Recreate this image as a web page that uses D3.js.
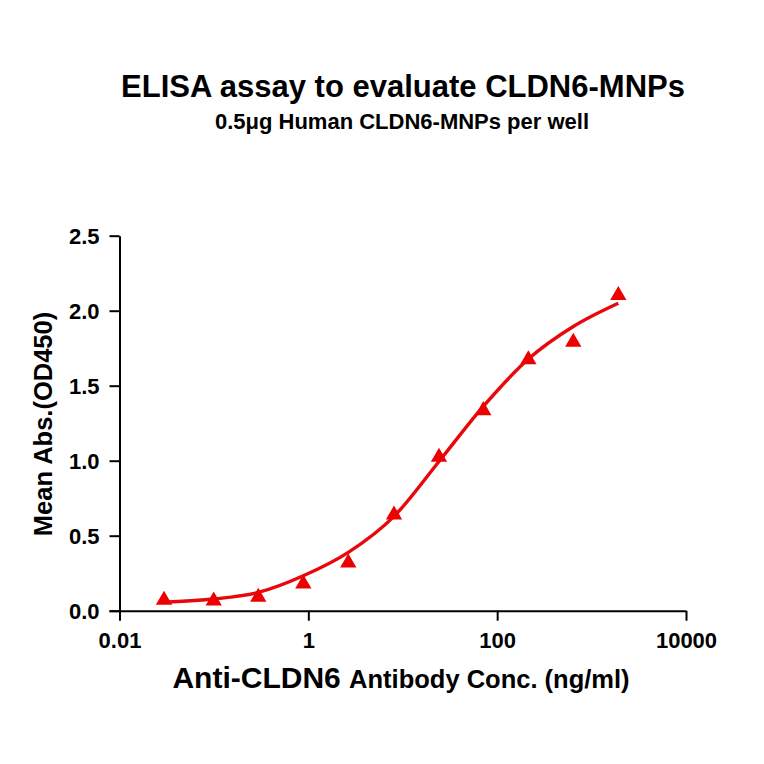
<!DOCTYPE html>
<head>
    <meta charset="utf-8">
    <script src="https://cdn.jsdelivr.net/npm/d3@7"></script>
    <title>ELISA assay to evaluate CLDN6-MNPs</title>
    <style>
        body { margin: 0; background: #fff; }
        text { font-family: "Liberation Sans", Arial, sans-serif; font-weight: bold; fill: #000; }
    </style>
</head>
<body>
    <div id="chart"></div>
    <script>
        // measured points (ng/ml, OD450)
        const conc = [0.0296, 0.0995, 0.295, 0.885, 2.65, 8.08, 24.2, 71.3, 214, 640, 1919];
        const od = [0.071, 0.066, 0.091, 0.179, 0.319, 0.639, 1.024, 1.335, 1.674, 1.791, 2.102];

        // fitted curve
        const fitConc = [0.033, 0.0995, 0.295, 0.885, 2.65, 8.08, 24.2, 71.3, 214, 640, 1919];
        const fitOd = [0.058, 0.078, 0.122, 0.233, 0.389, 0.629, 0.995, 1.362, 1.678, 1.895, 2.05];

        const xTicks = [0.01, 1, 100, 10000];
        const yTicks = [0, 0.5, 1.0, 1.5, 2.0, 2.5];

        const width = 764, height = 764;
        const mLeft = 119.5, mRight = 686, mTop = 235.7, mBottom = 610.7;

        const svg = d3.select("#chart").append("svg")
            .attr("width", width)
            .attr("height", height);

        const x = d3.scaleLog().domain([0.01, 10000]).range([mLeft, mRight]);
        const y = d3.scaleLinear().domain([0, 2.5]).range([mBottom, mTop]);

        // axes
        const xAxis = svg.append("g")
            .attr("transform", `translate(0,${mBottom})`)
            .call(d3.axisBottom(x).tickValues(xTicks).tickFormat(d => d3.format("~g")(d)).tickSize(10).tickPadding(10).tickSizeOuter(0));
        xAxis.select(".domain").attr("d", `M${mLeft - 10},0.5H${mRight}`);

        const yAxis = svg.append("g")
            .attr("transform", `translate(${mLeft},0)`)
            .call(d3.axisLeft(y).tickValues(yTicks).tickFormat(d3.format(".1f")).tickSize(10).tickPadding(10).tickSizeOuter(0));

        svg.selectAll(".tick line, .domain").attr("stroke", "#000").attr("stroke-width", 2);
        svg.selectAll(".tick text").style("font-size", "22px").attr("fill", "#000");
        yAxis.selectAll(".tick text").attr("dy", "0.36em");
        xAxis.selectAll(".tick text").attr("dy", "0.8em");

        // fitted line
        const line = d3.line()
            .x((d, i) => x(fitConc[i]))
            .y(d => y(d))
            .curve(d3.curveMonotoneX);

        svg.append("path")
            .datum(fitOd)
            .attr("d", line)
            .attr("fill", "none")
            .attr("stroke", "#e8070b")
            .attr("stroke-width", 3.4);

        // triangles
        svg.selectAll(".pt")
            .data(od)
            .enter()
            .append("path")
            .attr("class", "pt")
            .attr("transform", (d, i) => `translate(${x(conc[i])},${y(d)})`)
            .attr("d", d3.symbol().type(d3.symbolTriangle).size(115))
            .attr("fill", "#ee0000");

        // titles
        svg.append("text")
            .attr("x", 403).attr("y", 97)
            .attr("text-anchor", "middle")
            .style("font-size", "31px")
            .text("ELISA assay to evaluate CLDN6-MNPs");

        svg.append("text")
            .attr("x", 402).attr("y", 129)
            .attr("text-anchor", "middle")
            .style("font-size", "22px")
            .text("0.5μg Human CLDN6-MNPs per well");

        const xt = svg.append("text")
            .attr("x", 401).attr("y", 688)
            .attr("text-anchor", "middle");
        xt.append("tspan").style("font-size", "30px").text("Anti-CLDN6 ");
        xt.append("tspan").style("font-size", "25.5px").text("Antibody Conc. (ng/ml)");

        svg.append("text")
            .attr("transform", "translate(52,424) rotate(-90)")
            .attr("text-anchor", "middle")
            .style("font-size", "25.5px")
            .text("Mean Abs.(OD450)");
    </script>
</body>
